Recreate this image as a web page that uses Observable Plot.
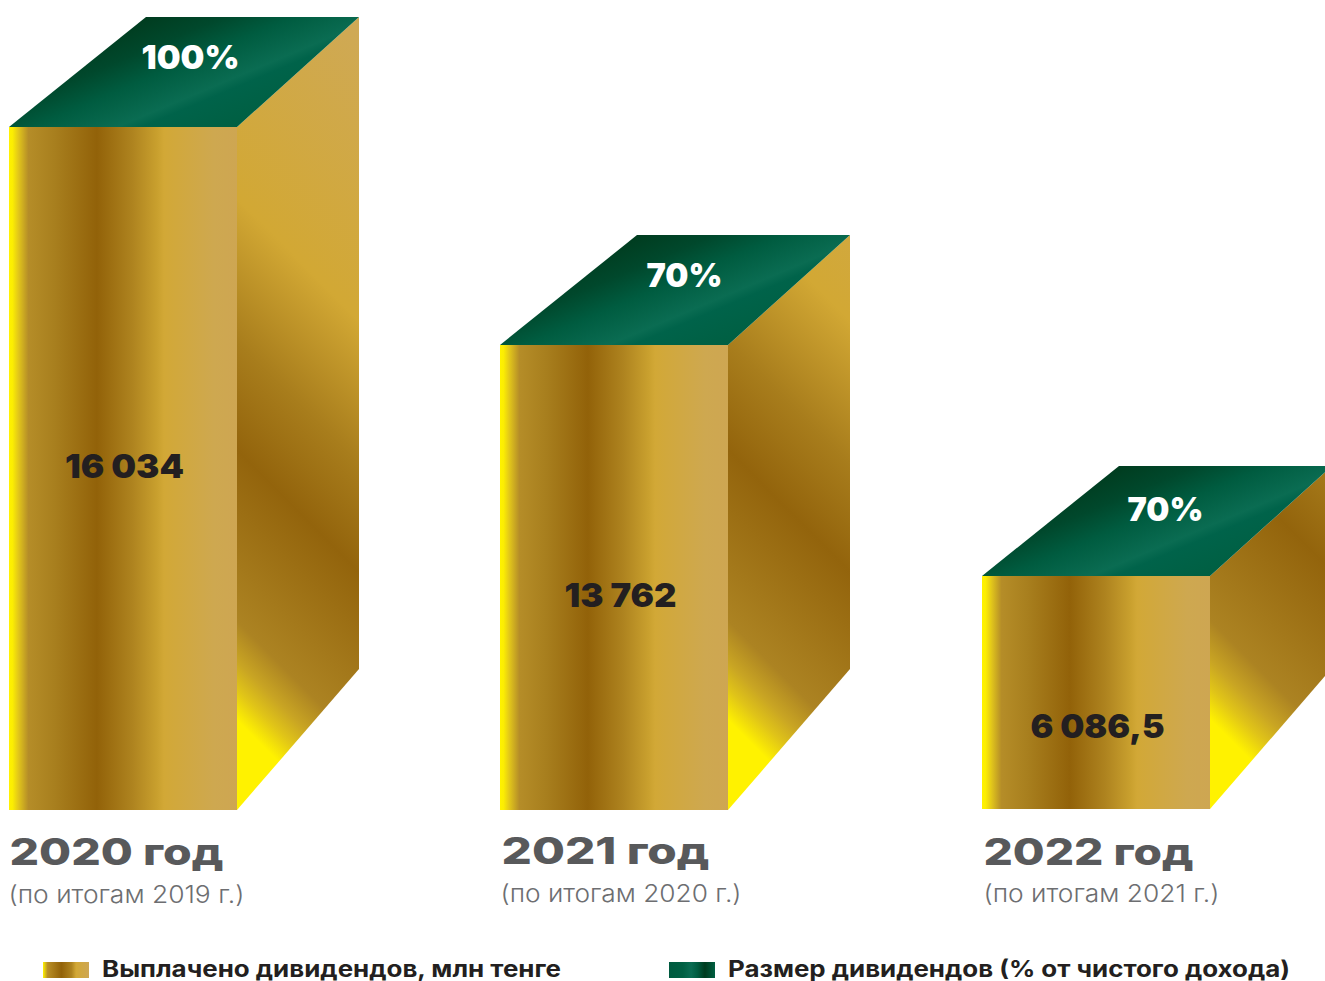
<!DOCTYPE html>
<html lang="ru">
<head>
<meta charset="utf-8">
<script src="https://cdn.jsdelivr.net/npm/d3@7"></script>
<script src="https://cdn.jsdelivr.net/npm/@observablehq/plot@0.6"></script>
<style>
  html, body { margin: 0; padding: 0; background: #fff; overflow: hidden; width: 1325px; height: 981px; }
  #chart svg { display: block; }
  .legend { position: absolute; top: 958px; height: 22px; line-height: 22px; display: block; white-space: nowrap; font: 700 22.5px/22px Inter, sans-serif; color: #231f20; }
  .swatch { position: absolute; top: 962px; width: 46px; height: 16px; }
  #chart { position: relative; }
</style>
</head>
<body>
<div id="chart"></div>
<script>
// ---- data ----
const years = [2020, 2021, 2022];
const paid = [16034, 13762, 6086.5];
const paidLabels = ["16 034", "13 762", "6 086,5"];
const shareLabels = ["100%", "70%", "70%"];
const yearLabels = ["2020 год", "2021 год", "2022 год"];
const subLabels = ["(по итогам 2019 г.)", "(по итогам 2020 г.)", "(по итогам 2021 г.)"];
const legendGold = "Выплачено дивидендов, млн тенге";
const legendGreen = "Размер дивидендов (% от чистого дохода)";

const table = years.map((year, i) => ({
  year, paid: paid[i], base: 0,
  paidLabel: paidLabels[i], shareLabel: shareLabels[i],
  yearLabel: yearLabels[i], subLabel: subLabels[i]
}));

// ---- styling ----
const FONT = "Inter, sans-serif";
const BAR_W = 228, TOP_L = 137, TOP_R = 122, TOP_H = 110, SIDE_RISE = 141;
const frontStops = [[0,"#fff200"],[.015,"#fcee02"],[.04,"#e3c81a"],[.085,"#b58d28"],[.2,"#a87f1e"],[.385,"#926209"],[.54,"#ae831f"],[.65,"#c9a02e"],[.68,"#d2a836"],[.9,"#cea850"],[1,"#cea652"]];
const sideStops = [[0,"#fff200"],[.10,"#fff200"],[.135,"#e0c418"],[.165,"#c9a523"],[.21,"#ac8322"],[.40,"#93640c"],[.52,"#a87d1c"],[.68,"#d2a834"],[1,"#cfa955"]];
const topStops = [[0,"#003c1f"],[.22,"#00482c"],[.42,"#005c40"],[.66,"#0a6c52"],[.73,"#00634a"],[1,"#005f42"]];

const NS = "http://www.w3.org/2000/svg";
function gradient(defs, id, stops, attrs) {
  const g = defs.append("linearGradient").attr("id", id);
  Object.entries(attrs).forEach(([k, v]) => g.attr(k, v));
  stops.forEach(([o, c]) => g.append("stop").attr("offset", o).attr("stop-color", c));
}

// Faces in perspective: positions come from the x and y scales plus the depth constants
function faces(baseInset) {
  return function (index, {x, y}, values, dims, ctx) {
    const root = d3.select(ctx.document.createElementNS(NS, "g"));
    const defs = root.append("defs");
    for (const i of index) {
      const d = table[i];
      const xl = x(d.year), xr = xl + BAR_W, yt = y(d.paid), yb = y(0) - baseInset;
      gradient(defs, "side" + d.year, sideStops, {gradientUnits: "userSpaceOnUse", x1: xr, y1: yb, x2: xr + 450, y2: yb - 450});
      gradient(defs, "top" + d.year, topStops, {gradientUnits: "userSpaceOnUse", x1: xl + TOP_L, y1: yt - TOP_H, x2: xl + TOP_L + 53, y2: yt - TOP_H + 126});
      root.append("polygon")
        .attr("points", [[xr, yt], [xr + TOP_R, yt - TOP_H], [xr + TOP_R, yb - SIDE_RISE], [xr, yb]].join(" "))
        .attr("fill", `url(#side${d.year})`);
      root.append("polygon")
        .attr("points", [[xl, yt], [xl + TOP_L, yt - TOP_H], [xr + TOP_R, yt - TOP_H], [xr, yt]].join(" "))
        .attr("fill", `url(#top${d.year})`);
    }
    return root.node();
  };
}

// Fit the substitute font to the reference's text width
const fit = (width) => function (index, scales, values, dims, ctx, next) {
  const g = next(index, scales, values, dims, ctx);
  g.querySelectorAll("text").forEach(t => {
    t.setAttribute("textLength", width);
    t.setAttribute("lengthAdjust", "spacingAndGlyphs");
  });
  return g;
};

const one = (i) => [table[i]];
const textMarks = [
  // value labels on the front faces: [dx, dy, width]
  ...[[115, 340, 119], [120, 251, 112], [115, 151, 134]].map(([dx, dy, w], i) =>
    Plot.text(one(i), {x: "year", y: "paid", text: "paidLabel", dx, dy, textAnchor: "middle",
      fontFamily: FONT, fontWeight: 900, fontSize: 33, fill: "#231f20", render: fit(w)})),
  // percentage labels on the top faces
  ...[[181, -69, 98], [184, -69, 76], [183, -66, 76]].map(([dx, dy, w], i) =>
    Plot.text(one(i), {x: "year", y: "paid", text: "shareLabel", dx, dy, textAnchor: "middle",
      fontFamily: FONT, fontWeight: 900, fontSize: 33, fill: "#ffffff", render: fit(w)})),
  // year captions
  ...[[0, 43, 214], [1, 42, 208], [1, 43, 210]].map(([dx, dy, w], i) =>
    Plot.text(one(i), {x: "year", y: "base", text: "yearLabel", dx, dy, textAnchor: "start",
      fontFamily: FONT, fontWeight: 800, fontSize: 37, fill: "#58595b", render: fit(w)})),
  ...[[-1, 85, 236], [0, 84, 241], [1, 84, 236]].map(([dx, dy, w], i) =>
    Plot.text(one(i), {x: "year", y: "base", text: "subLabel", dx, dy, textAnchor: "start",
      fontFamily: FONT, fontWeight: 300, fontSize: 24, fill: "#6d6e71", render: fit(w)}))
];

const chart = Plot.plot({
  width: 1325,
  height: 930,
  margin: 0,
  style: {background: "transparent", overflow: "hidden"},
  x: {type: "linear", domain: years, range: [9, 500, 982], axis: null},
  y: {type: "linear", domain: [0, 6086.5, 13762, 16034], range: [810, 576, 345, 127], axis: null},
  marks: [
    () => {
      const g = d3.create("svg:defs");
      gradient(g, "front", frontStops, {x1: 0, y1: 0, x2: 1, y2: 0});
      return g.node();
    },
    Plot.dot(table.slice(0, 2), {x: "year", y: "paid", render: faces(0)}),
    Plot.dot(table.slice(2), {x: "year", y: "paid", render: function (index, s, v, dd, ctx) {
      return faces(1)(index.map(i => i + 2), s, v, dd, ctx);
    }}),
    Plot.rect(table.slice(0, 2), {x1: "year", x2: "year", y1: "base", y2: "paid", insetRight: -BAR_W, fill: "url(#front)"}),
    Plot.rect(table.slice(2), {x1: "year", x2: "year", y1: "base", y2: "paid", insetRight: -BAR_W, insetBottom: 1, fill: "url(#front)"}),
    ...textMarks
  ]
});
document.getElementById("chart").append(chart);

// ---- legend, below the SVG ----
function legendItem(left, textLeft, label, css, width) {
  const s = document.createElement("div");
  s.className = "swatch"; s.style.left = left + "px"; s.style.background = css;
  const t = document.createElement("div");
  t.className = "legend"; t.style.left = textLeft + "px"; t.textContent = label;
  document.body.append(s, t);
  const w = t.getBoundingClientRect().width;
  t.style.transformOrigin = "left center";
  t.style.transform = `scaleX(${width / w})`;
}
legendItem(43, 102, legendGold,
  "linear-gradient(90deg,#fff200 0%,#b98f27 10%,#926209 40%,#ae831f 62%,#d2a836 72%,#cea652 100%)", 459);
legendItem(669, 728, legendGreen,
  "linear-gradient(90deg,#005a3f 0%,#005f42 30%,#0a6c52 48%,#005c40 62%,#003c1f 78%,#005f42 100%)", 562);
</script>
</body>
</html>
